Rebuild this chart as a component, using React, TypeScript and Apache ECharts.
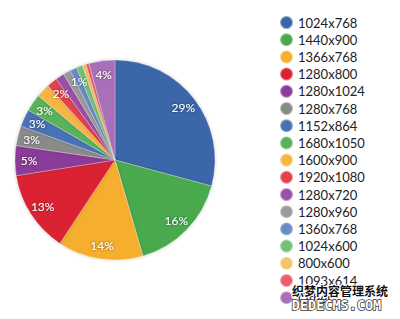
import React, { useEffect, useRef } from "react";
import * as echarts from "echarts";

const categories = [
  "1024x768", "1440x900", "1366x768", "1280x800", "1280x1024", "1280x768",
  "1152x864", "1680x1050", "1600x900", "1920x1080", "1280x720", "1280x960",
  "1360x768", "1024x600", "800x600", "1093x614", "Other",
];
const values = [29.2, 16.3, 13.8, 13.2, 4.8, 3.2, 2.8, 2.8, 2.2, 1.7, 1.4, 1.2, 1.1, 1.0, 0.6, 0.5, 4.2];
const colors = [
  "#3a66a9", "#4aa94e", "#f5ae2e", "#db2132", "#8b3b98", "#8a8a8a",
  "#4672b4", "#5ab35b", "#f7b545", "#e1424e", "#9b50a8", "#9b9b9b",
  "#6a8cc6", "#72c274", "#f6c26b", "#ea5f6a", "#a870b8",
];

export default function App() {
  const ref = useRef<HTMLDivElement>(null);
  useEffect(() => {
    document.body.style.margin = "0";
    const chart = echarts.init(ref.current!, null, { renderer: "svg" });
    const data = categories.map((name, i) => ({
      name,
      value: values[i],
      itemStyle: { color: colors[i] },
    }));
    chart.setOption({
      animation: false,
      legend: {
        orient: "vertical",
        left: 279,
        top: 15,
        bottom: 0,
        padding: 0,
        icon: "circle",
        itemWidth: 13,
        itemHeight: 13,
        itemGap: 2.2,
        data: categories,
        textStyle: { fontFamily: "Lato", fontSize: 13, lineHeight: 13, color: "#222" },
      },
      series: [
        {
          type: "pie",
          center: [115, 160],
          radius: [0, 100],
          startAngle: 90,
          clockwise: true,
          label: { show: false },
          labelLine: { show: false },
          emphasis: { disabled: true },
          itemStyle: {
            borderColor: "rgba(255,255,255,0.45)",
            borderWidth: 0.6,
            shadowColor: "rgba(0,0,0,0.25)",
            shadowBlur: 3,
          },
          data,
        },
        {
          type: "pie",
          center: [115, 160],
          radius: [66, 100],
          startAngle: 90,
          clockwise: true,
          silent: true,
          itemStyle: { color: "transparent" },
          label: {
            show: true,
            position: "inside",
            formatter: "{d}%",
            color: "#fff",
            fontFamily: "Lato",
            fontSize: 12,
            textShadowColor: "rgba(0,0,0,0.6)",
            textShadowBlur: 2,
          },
          percentPrecision: 0,
          labelLine: { show: false },
          emphasis: { disabled: true },
          data: categories.map((name, i) => ({ name, value: values[i] })),
        },
      ],
      graphic: [
        {
          type: "text",
          left: 291,
          top: 283,
          z: 100,
          style: {
            text: "织梦内容管理系统",
            font: "bold 12px 'Noto Sans CJK SC'",
            fill: "#111",
            stroke: "#fff",
            lineWidth: 2,
          },
        },
        {
          type: "text",
          left: 291,
          top: 297,
          z: 100,
          style: {
            text: "DEDECMS.COM",
            font: "bold 13.5px 'DejaVu Sans Mono'",
            fill: "#fff",
            stroke: "#333",
            lineWidth: 1.5,
          },
        },
      ],
    });
    return () => chart.dispose();
  }, []);
  return <div ref={ref} style={{ width: 400, height: 319 }} />;
}
